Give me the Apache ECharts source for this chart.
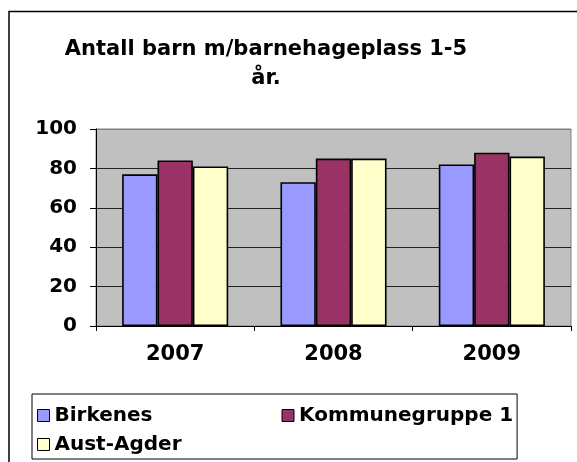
<!DOCTYPE html>
<html>
<head>
<meta charset="utf-8">
<script src="https://cdn.jsdelivr.net/npm/echarts@6/dist/echarts.min.js"></script>
<style>
html,body{margin:0;padding:0;background:#fff;}
#c{width:577px;height:462px;}
</style>
</head>
<body>
<div id="c"></div>
<script>
const titleText = 'Antall barn m/barnehageplass 1-5\når.';
const categories = ['2007', '2008', '2009'];
const seriesNames = ['Birkenes', 'Kommunegruppe 1', 'Aust-Agder'];
const birkenes = [77, 73, 82];
const kommunegruppe1 = [84, 85, 88];
const austAgder = [81, 85, 86];
const yTicks = [0, 20, 40, 60, 80, 100];

const FONT = 'DejaVu Sans';
const colors = ['#9999FF', '#993366', '#FFFFCC'];
const seriesData = [birkenes, kommunegruppe1, austAgder];

const chart = echarts.init(document.getElementById('c'), null, {renderer: 'canvas'});
chart.setOption({
  animation: false,
  backgroundColor: '#fff',
  graphic: [{
    type: 'rect', z: -10,
    shape: {x: 9, y: 11.5, width: 620, height: 500},
    style: {fill: 'none', stroke: '#000', lineWidth: 1.5}
  }],
  title: {
    text: titleText,
    left: 266, top: 35, textAlign: 'center', padding: 0,
    textStyle: {fontFamily: FONT, fontSize: 21, fontWeight: 'bold', color: '#000', lineHeight: 29}
  },
  grid: {
    left: 96, right: 6, top: 129, bottom: 136,
    show: true, backgroundColor: '#C0C0C0', borderColor: '#808080', borderWidth: 1
  },
  legend: {
    data: seriesNames,
    left: 32, top: 394, width: 480,
    orient: 'horizontal',
    padding: [7, 4, 0, 5],
    itemGap: 0,
    itemWidth: 12, itemHeight: 12,
    icon: 'rect',
    borderColor: '#000', borderWidth: 1,
    itemStyle: {borderColor: '#000', borderWidth: 1},
    formatter: function (name) { return name === 'Kommunegruppe 1' ? '{b|' + name + '}' : '{a|' + name + '}'; },
    textStyle: {
      fontFamily: FONT, fontSize: 20, fontWeight: 'bold', color: '#000', lineHeight: 29,
      rich: {
        a: {fontFamily: FONT, fontSize: 20, fontWeight: 'bold', color: '#000', lineHeight: 29, width: 227},
        b: {fontFamily: FONT, fontSize: 20, fontWeight: 'bold', color: '#000', lineHeight: 29}
      }
    }
  },
  xAxis: {
    type: 'category',
    data: categories,
    axisLine: {lineStyle: {color: '#000', width: 1}},
    axisTick: {show: true, length: 5, lineStyle: {color: '#000'}},
    axisLabel: {fontFamily: FONT, fontSize: 21, fontWeight: 'bold', color: '#000', margin: 18}
  },
  yAxis: {
    type: 'value',
    min: 0, max: 100, interval: 20,
    axisLine: {show: true, lineStyle: {color: '#000', width: 1}},
    axisTick: {show: true, length: 6, lineStyle: {color: '#000'}},
    axisLabel: {
      fontFamily: FONT, fontSize: 20, fontWeight: 'bold', color: '#000', margin: 19,
      formatter: function (v) { return yTicks.indexOf(v) >= 0 ? String(v) : ''; }
    },
    splitLine: {show: true, lineStyle: {color: ['#222', '#222', '#222', '#222', '#222', '#808080'], width: 1}}
  },
  series: seriesNames.map(function (name, i) {
    return {
      name: name,
      type: 'bar',
      data: seriesData[i],
      barGap: '0%',
      barCategoryGap: '33%',
      itemStyle: {color: colors[i], borderColor: '#000', borderWidth: 1.6}
    };
  })
});
</script>
</body>
</html>
